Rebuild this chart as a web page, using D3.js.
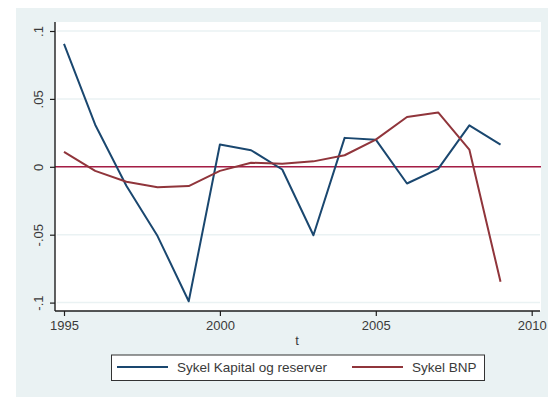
<!DOCTYPE html>
<html>
<head>
<meta charset="utf-8">
<script src="https://cdn.jsdelivr.net/npm/d3@7"></script>
<style>
  html, body { margin: 0; padding: 0; background: #ffffff; }
  svg { display: block; }
  text { font-family: "Liberation Sans", Arial, sans-serif; }
</style>
</head>
<body>
<svg id="chart" width="554" height="399"></svg>
<script>
// Cyclical components by year
const years = [1995, 1996, 1997, 1998, 1999, 2000, 2001, 2002, 2003, 2004, 2005, 2006, 2007, 2008, 2009];
const kapital = [0.0905, 0.031, -0.014, -0.051, -0.099, 0.0164, 0.0122, -0.002, -0.0504, 0.0213, 0.020, -0.0123, -0.0015, 0.0305, 0.0164];
const bnp = [0.011, -0.003, -0.011, -0.015, -0.0142, -0.003, 0.003, 0.0022, 0.004, 0.0085, 0.020, 0.0367, 0.040, 0.0127, -0.0847];

const xTicks = [1995, 2000, 2005, 2010];
const yTicks = [-0.1, -0.05, 0, 0.05, 0.1];
const yTickLabels = ["-.1", "-.05", "0", ".05", ".1"];
const seriesNames = ["Sykel Kapital og reserver", "Sykel BNP"];

const colors = { kapital: "#1a476f", bnp: "#90353b", yline: "#a51d45" };

const svg = d3.select("#chart");

// graph region
svg.append("rect")
  .attr("x", 16).attr("y", 8).attr("width", 532).attr("height", 389)
  .attr("fill", "#eaf2f3");

const plot = { left: 55, right: 541, top: 22, bottom: 311 };

const x = d3.scaleLinear().domain([1995, 2010]).range([64, 531.7]);
const y = d3.scaleLinear().domain([-0.1, 0.1]).range([302.6, 31]);

// plot region
svg.append("rect")
  .attr("x", plot.left).attr("y", plot.top)
  .attr("width", plot.right - plot.left).attr("height", plot.bottom - plot.top)
  .attr("fill", "#ffffff");

// horizontal grid
svg.append("g").selectAll("line").data(yTicks).join("line")
  .attr("x1", plot.left + 2).attr("x2", plot.right - 1)
  .attr("y1", d => y(d)).attr("y2", d => y(d))
  .attr("stroke", "#eaf2f3").attr("stroke-width", 1.5);

// reference line at zero
svg.append("line")
  .attr("x1", plot.left).attr("x2", plot.right)
  .attr("y1", y(0)).attr("y2", y(0))
  .attr("stroke", colors.yline).attr("stroke-width", 1.6);

// series
const line = d3.line().x((d, i) => x(years[i])).y(d => y(d));
svg.append("path").datum(kapital)
  .attr("d", line).attr("fill", "none")
  .attr("stroke", colors.kapital).attr("stroke-width", 2).attr("stroke-linejoin", "round");
svg.append("path").datum(bnp)
  .attr("d", line).attr("fill", "none")
  .attr("stroke", colors.bnp).attr("stroke-width", 2).attr("stroke-linejoin", "round");

// axes
const yAxis = d3.axisLeft(y).tickValues(yTicks)
  .tickFormat((d, i) => yTickLabels[i]).tickSize(5);
const gy = svg.append("g").attr("transform", `translate(${plot.left},0)`).call(yAxis);
gy.select(".domain").attr("d", `M0,${plot.top}V${plot.bottom}`);
// vertical tick labels, reading bottom to top
gy.selectAll(".tick text")
  .attr("x", 0).attr("y", 0).attr("dy", "0.35em")
  .attr("text-anchor", "middle")
  .attr("transform", "translate(-17,0) rotate(-90)");

const xAxis = d3.axisBottom(x).tickValues(xTicks).tickFormat(d3.format("d")).tickSize(5).tickPadding(5);
const gx = svg.append("g").attr("transform", `translate(0,${plot.bottom})`).call(xAxis);
gx.select(".domain").attr("d", `M${plot.left},0H${plot.right - 1}`);

[gx, gy].forEach(g => {
  g.select(".domain").attr("stroke", "#1e1e1e").attr("stroke-width", 1.4);
  g.selectAll(".tick line").attr("stroke", "#1e1e1e").attr("stroke-width", 1.2);
  g.selectAll(".tick text").attr("fill", "#3a3a3a").style("font-size", "13px")
    .style("font-family", '"Liberation Sans", Arial, sans-serif');
});

// x-axis title
svg.append("text").attr("x", 297).attr("y", 345).attr("text-anchor", "middle")
  .attr("fill", "#3a3a3a").style("font-size", "13px").text("t");

// legend
const lg = svg.append("g");
lg.append("rect").attr("x", 111.5).attr("y", 355).attr("width", 373).attr("height", 25.5)
  .attr("fill", "#ffffff").attr("stroke", "#333333").attr("stroke-width", 1);
const legendItems = [
  { name: seriesNames[0], color: colors.kapital, x0: 117, tx: 177 },
  { name: seriesNames[1], color: colors.bnp, x0: 352, tx: 412 }
];
legendItems.forEach(it => {
  lg.append("line").attr("x1", it.x0).attr("x2", it.x0 + 51).attr("y1", 367).attr("y2", 367)
    .attr("stroke", it.color).attr("stroke-width", 2);
  lg.append("text").attr("x", it.tx).attr("y", 372).attr("fill", "#3a3a3a")
    .style("font-size", "13.5px").text(it.name);
});
</script>
</body>
</html>
